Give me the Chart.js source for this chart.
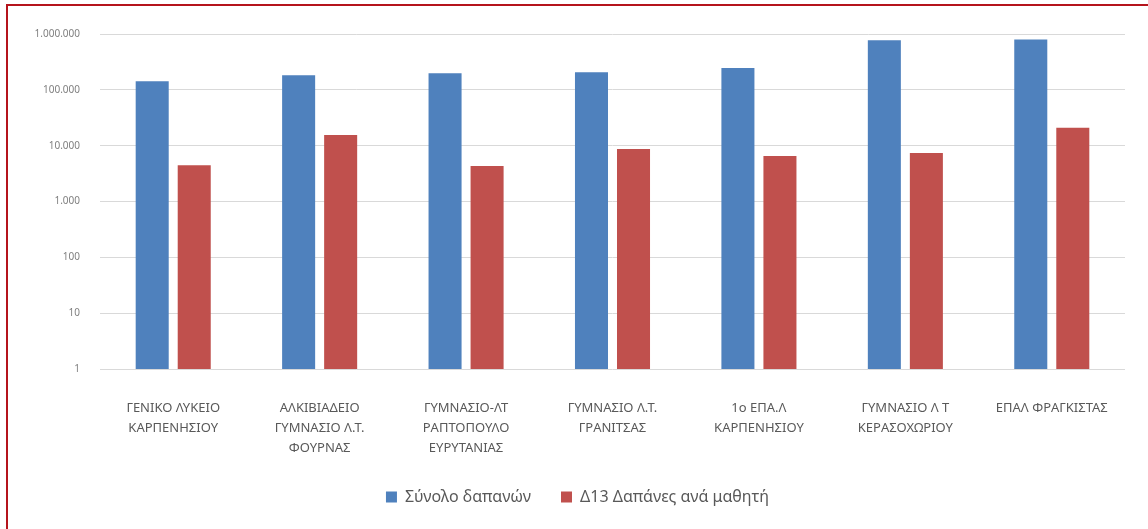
<!DOCTYPE html>
<html>
<head>
<meta charset="utf-8">
<script src="https://cdn.jsdelivr.net/npm/chart.js@4"></script>
<style>
  html, body { margin: 0; padding: 0; background: #fff; }
  #wrap { position: relative; width: 1148px; height: 529px; overflow: hidden; }
  /* κόκκινο πλαίσιο (μόνο πάνω και αριστερά φαίνονται) */
  #frame { position: absolute; left: 6px; top: 4px; right: -10px; bottom: -10px;
           border-left: 2px solid #b5141c; border-top: 2px solid #b5141c; }
  canvas { position: absolute; left: 0; top: 0; }
</style>
</head>
<body>
<div id="wrap">
  <div id="frame"></div>
  <canvas id="chart" width="1148" height="529"></canvas>
</div>
<script>
// σχολεία (γραμμές ετικέτας)
var sxoleia = [
  ['ΓΕΝΙΚΟ ΛΥΚΕΙΟ', 'ΚΑΡΠΕΝΗΣΙΟΥ'],
  ['ΑΛΚΙΒΙΑΔΕΙΟ', 'ΓΥΜΝΑΣΙΟ Λ.Τ.', 'ΦΟΥΡΝΑΣ'],
  ['ΓΥΜΝΑΣΙΟ-ΛΤ', 'ΡΑΠΤΟΠΟΥΛΟ', 'ΕΥΡΥΤΑΝΙΑΣ'],
  ['ΓΥΜΝΑΣΙΟ Λ.Τ.', 'ΓΡΑΝΙΤΣΑΣ'],
  ['1ο ΕΠΑ.Λ', 'ΚΑΡΠΕΝΗΣΙΟΥ'],
  ['ΓΥΜΝΑΣΙΟ Λ Τ', 'ΚΕΡΑΣΟΧΩΡΙΟΥ'],
  ['ΕΠΑΛ ΦΡΑΓΚΙΣΤΑΣ']
];
var synoloDapanon  = [143000, 183000, 198000, 207000, 247000, 770000, 800000];
var dapanesAnaMathiti = [4450, 15500, 4330, 8700, 6530, 7400, 20900];
var yTicks = [1, 10, 100, 1000, 10000, 100000, 1000000];

function formatTeleia(v) {
  return String(Math.round(v)).replace(/\B(?=(\d{3})+(?!\d))/g, '.');
}

var ctx = document.getElementById('chart');
var chart = new Chart(ctx, {
  type: 'bar',
  data: {
    labels: sxoleia,
    datasets: [
      {
        label: 'Σύνολο δαπανών',
        data: synoloDapanon,
        backgroundColor: '#4f81bd',
        categoryPercentage: 0.574,
        barPercentage: 0.786
      },
      {
        label: 'Δ13 Δαπάνες ανά μαθητή',
        data: dapanesAnaMathiti,
        backgroundColor: '#c0504d',
        categoryPercentage: 0.574,
        barPercentage: 0.786
      }
    ]
  },
  options: {
    responsive: false,
    animation: false,
    // αριστερό padding ώστε το υπόμνημα να κεντράρεται λίγο δεξιότερα
    layout: { padding: { left: 30, right: 23, top: 34, bottom: 14 } },
    plugins: {
      tooltip: { enabled: false },
      legend: {
        position: 'bottom',
        labels: {
          boxWidth: 11, boxHeight: 11,
          padding: 30,
          color: '#595959',
          font: { family: 'Noto Sans', size: 16 }
        }
      }
    },
    scales: {
      x: {
        grid: { display: false },
        border: { display: false },
        ticks: {
          color: '#595959',
          padding: 21,
          maxRotation: 0,
          autoSkip: false,
          font: { family: 'Noto Sans', size: 13, lineHeight: '20px' }
        },
        afterFit: function(scale) { scale.height = 90; }
      },
      y: {
        type: 'logarithmic',
        min: 1,
        max: 1000000,
        grid: { color: '#d9d9d9', lineWidth: 1, drawTicks: false },
        border: { display: false },
        ticks: {
          color: '#7f7f7f',
          padding: 20,
          font: { family: 'Noto Sans', size: 10 },
          callback: function(v) { return formatTeleia(v); }
        },
        afterBuildTicks: function(scale) {
          scale.ticks = yTicks.map(function(v) { return { value: v }; });
        },
        afterFit: function(scale) { scale.width = 70; }
      }
    }
  }
});
</script>
</body>
</html>
